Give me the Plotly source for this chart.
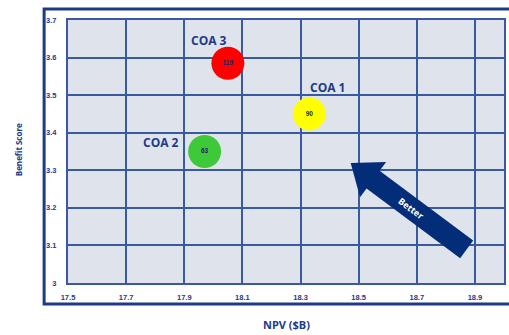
import math
import plotly.graph_objects as go

# Course-of-action comparison data
coa_names = ["COA 1", "COA 2", "COA 3"]
npv = [18.33, 17.97, 18.05]
benefit = [3.45, 3.35, 3.585]
cost_labels = ["90", "63", "119"]
colors = ["#ffff00", "#3ec93a", "#ff0000"]
label_shift_x = [18, -44, -19]
label_shift_y = [26, 9, 23]

x_ticks = [17.5, 17.7, 17.9, 18.1, 18.3, 18.5, 18.7, 18.9]
y_ticks = [3.0, 3.1, 3.2, 3.3, 3.4, 3.5, 3.6, 3.7]
x_tick_text = ["17.5", "17.7", "17.9", "18.1", "18.3", "18.5", "18.7", "18.9"]
y_tick_text = ["3", "3.1", "3.2", "3.3", "3.4", "3.5", "3.6", "3.7"]

NAVY = "#1d3a86"
GRID = "#3a5aa0"
W, H = 509, 335
ML, MR, MT, MB = 68, 3, 20, 52
PW, PH = W - ML - MR, H - MT - MB

fig = go.Figure()
fig.add_trace(go.Scatter(
    x=npv, y=benefit, mode="markers+text",
    text=cost_labels, textposition="middle center",
    textfont=dict(family="Liberation Sans", size=6.5, color="#12285e", weight="bold"),
    marker=dict(size=33, color=colors, line=dict(width=0)),
    hoverinfo="skip", showlegend=False,
))

annotations = []
for name, xv, yv, sx, sy in zip(coa_names, npv, benefit, label_shift_x, label_shift_y):
    annotations.append(dict(
        x=xv, y=yv, xref="x", yref="y", text=name, showarrow=False,
        xshift=sx, yshift=sy, xanchor="center", yanchor="middle",
        font=dict(family="Open Sans", size=12, color=NAVY, weight="bold"),
    ))


def to_paper(px, py):
    return (px - ML) / PW, (H - MB - py) / PH


# "Better" arrow drawn as a polygon in page pixels, converted to paper coords
tip = (352.0, 163.0)
ang = math.atan2(86, 116)
ux, uy = -math.cos(ang), -math.sin(ang)
nx, ny = -uy, ux
head_len, head_half, shaft_half, total = 28, 22, 11, 145
cx, cy = tip[0] - head_len * ux, tip[1] - head_len * uy
ex, ey = tip[0] - total * ux, tip[1] - total * uy
pts = [
    tip,
    (cx + head_half * nx, cy + head_half * ny),
    (cx + shaft_half * nx, cy + shaft_half * ny),
    (ex + shaft_half * nx, ey + shaft_half * ny),
    (ex - shaft_half * nx, ey - shaft_half * ny),
    (cx - shaft_half * nx, cy - shaft_half * ny),
    (cx - head_half * nx, cy - head_half * ny),
]
path = "M " + " L ".join(f"{to_paper(*p)[0]:.4f},{to_paper(*p)[1]:.4f}" for p in pts) + " Z"

shapes = [
    dict(type="path", path=path, xref="paper", yref="paper",
         fillcolor="#032d78", line=dict(width=0), layer="above"),
]

# Outer frame around the chart
fx0, fy0 = to_paper(44, 9)
fx1, fy1 = to_paper(515, 304)
shapes.append(dict(type="rect", xref="paper", yref="paper",
                   x0=fx0, y0=fy1, x1=fx1, y1=fy0,
                   line=dict(color=NAVY, width=3), fillcolor="rgba(0,0,0,0)",
                   layer="below"))

bx, by = to_paper(413, 208)
annotations.append(dict(
    x=bx, y=by, xref="paper", yref="paper", text="Better", showarrow=False,
    textangle=math.degrees(ang), xanchor="center", yanchor="middle",
    font=dict(family="Open Sans", size=9, color="white", weight="bold"),
))

tx, ty = to_paper(18, 150)
annotations.append(dict(
    x=tx, y=ty, xref="paper", yref="paper", text="Benefit Score", showarrow=False,
    textangle=-90, xanchor="center", yanchor="middle",
    font=dict(family="Open Sans", size=8, color=NAVY, weight="bold"),
))
ax_, ay_ = to_paper(287, 324)
annotations.append(dict(
    x=ax_, y=ay_, xref="paper", yref="paper", text="NPV ($B)", showarrow=False,
    xanchor="center", yanchor="middle",
    font=dict(family="Open Sans", size=11, color=NAVY, weight="bold"),
))

tick_font = dict(family="Liberation Sans", size=7.5, color=NAVY, weight="bold")
fig.update_layout(
    width=W, height=H,
    margin=dict(l=ML, r=MR, t=MT, b=MB),
    paper_bgcolor="white", plot_bgcolor="#dfe3ec",
    xaxis=dict(range=[17.5, 19.0], tickvals=x_ticks, ticktext=x_tick_text,
               showgrid=True, gridcolor=GRID, gridwidth=1.6, zeroline=False,
               showline=True, linecolor=GRID, linewidth=2, mirror=True,
               ticks="outside", ticklen=6, tickcolor="rgba(0,0,0,0)",
               tickfont=tick_font, fixedrange=True),
    yaxis=dict(range=[3.0, 3.7], tickvals=y_ticks, ticktext=y_tick_text,
               showgrid=True, gridcolor=GRID, gridwidth=1.6, zeroline=False,
               showline=True, linecolor=GRID, linewidth=2, mirror=True,
               ticks="outside", ticklen=8, tickcolor="rgba(0,0,0,0)",
               tickfont=tick_font, fixedrange=True),
    shapes=shapes, annotations=annotations,
)

fig.write_html("out.html")
